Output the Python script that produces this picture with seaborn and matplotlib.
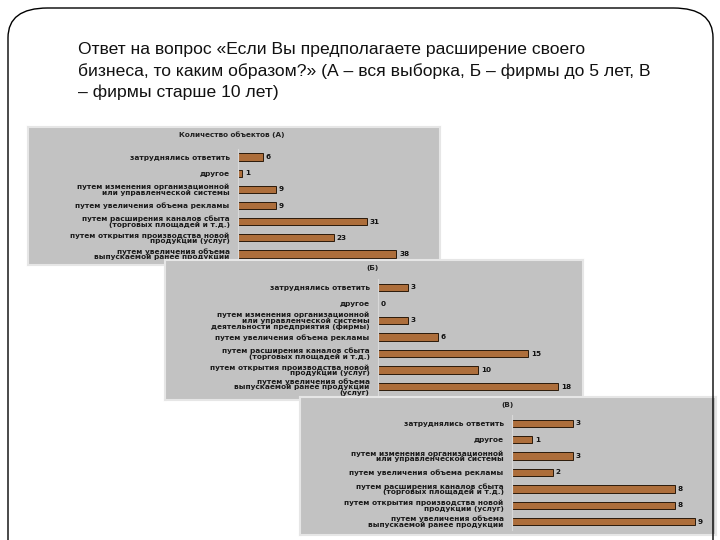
import matplotlib
matplotlib.use("Agg")
import matplotlib.pyplot as plt
from matplotlib.patches import FancyBboxPatch
import seaborn as sns

# --- data ---
cats_a = ["затруднялись ответить",
          "другое",
          "путем изменения организационной\nили управленческой системы",
          "путем увеличения объема рекламы",
          "путем расширения каналов сбыта\n(торговых площадей и т.д.)",
          "путем открытия производства новой\nпродукции (услуг)",
          "путем увеличения объема\nвыпускаемой ранее продукции"]
vals_a = [6, 1, 9, 9, 31, 23, 38]

cats_b = ["затруднялись ответить",
          "другое",
          "путем изменения организационной\nили управленческой системы\nдеятельности предприятия (фирмы)",
          "путем увеличения объема рекламы",
          "путем расширения каналов сбыта\n(торговых площадей и т.д.)",
          "путем открытия производства новой\nпродукции (услуг)",
          "путем увеличения объема\nвыпускаемой ранее продукции\n(услуг)"]
vals_b = [3, 0, 3, 6, 15, 10, 18]

cats_v = cats_a
vals_v = [3, 1, 3, 2, 8, 8, 9]

title = ("Ответ на вопрос «Если Вы предполагаете расширение своего\n"
         "бизнеса, то каким образом?» (А – вся выборка, Б – фирмы до 5 лет, В\n"
         "– фирмы старше 10 лет)")

sns.set_style("white")
plt.rcParams['font.family'] = ['DejaVu Sans']

W, H = 720, 540
fig = plt.figure(figsize=(7.2, 5.4), dpi=100)


def fr(x0, y0, x1, y1):
    return [x0 / W, 1 - y1 / H, (x1 - x0) / W, (y1 - y0) / H]


# slide frame
frame = FancyBboxPatch((8 / W, -0.2), 705 / W, (H - 8) / H + 0.2,
                       boxstyle="round,pad=0,rounding_size=0.055",
                       transform=fig.transFigure, fill=False,
                       edgecolor="black", linewidth=1.0)
fig.patches.append(frame)

fig.text(78 / W, 1 - 42 / H, title, ha="left", va="top",
         fontsize=12.6, family=["Liberation Sans", "DejaVu Sans"],
         linespacing=1.45, color="#111111")

panel_color = "#c2c2c2"
bar_color = "#ad6e3b"


def panel(box, bars_box, cats, vals, xmax, head, head_x):
    bg = fig.add_axes(fr(*box))
    bg.set_facecolor(panel_color)
    bg.set_xticks([])
    bg.set_yticks([])
    for s in bg.spines.values():
        s.set_color("#e6e6e6")
        s.set_linewidth(1.5)
    fig.text(head_x / W, 1 - (box[1] + 8) / H, head, ha="center", va="center",
             fontsize=5.2, fontweight="bold", color="#222222")

    ax = fig.add_axes(fr(*bars_box))
    ax.patch.set_alpha(0)
    sns.barplot(x=vals, y=cats, orient="h", ax=ax, color=bar_color,
                width=0.45, saturation=1, edgecolor="#2a1a0a", linewidth=0.7)
    ax.set_xlim(0, xmax)
    ax.set_ylim(6.5, -0.5)
    ax.set_xticks([])
    ax.tick_params(axis="y", length=0, pad=6)
    for lab in ax.get_yticklabels():
        lab.set_fontsize(5.3)
        lab.set_fontweight("bold")
        lab.set_color("#1a1a1a")
        lab.set_linespacing(0.88)
    for s in ["top", "right", "bottom"]:
        ax.spines[s].set_visible(False)
    ax.spines["left"].set_color("#d8d8d8")
    ax.spines["left"].set_linewidth(0.8)
    ax.bar_label(ax.containers[0], padding=2, fontsize=5.2, fontweight="bold",
                 color="#111111")
    ax.set_xlabel("")
    ax.set_ylabel("")


panel((28, 127, 440, 265), (238, 149, 438, 262), cats_a, vals_a, 48,
      "Количество объектов (А)", 232)
panel((165, 260, 583, 400), (378, 279, 578, 395), cats_b, vals_b, 20,
      "(Б)", 372)
panel((300, 397, 716, 535), (512, 415, 712, 530), cats_v, vals_v, 9.84,
      "(В)", 507)

fig.savefig("out.png", dpi=100)
